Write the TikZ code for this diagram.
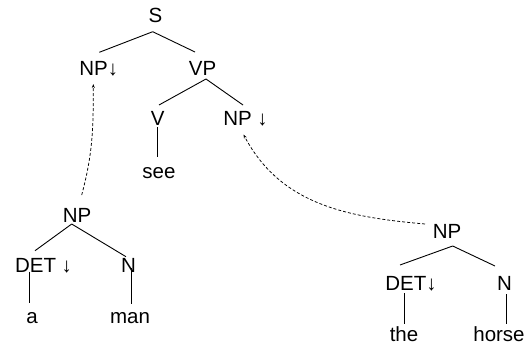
\documentclass[tikz,border=0pt]{standalone}
\usepackage{fontspec}
\setmainfont{Liberation Sans}
\usetikzlibrary{arrows.meta}
\begin{document}
\begin{tikzpicture}[x=1pt,y=-1pt,
  lbl/.style={anchor=base,inner sep=0pt,font=\fontsize{20.5}{20.5}\selectfont},
  edge/.style={line width=0.9pt},
  move/.style={line width=0.75pt,dash pattern=on 3pt off 2pt,-{Stealth[length=4pt,width=3pt]}}]
\useasboundingbox (0,0) rectangle (530,345);
% nodes
\node[lbl] (S) at (155.5,23) {S};
\node[lbl] (NPa) at (98.7,76) {NP↓};
\node[lbl] (VP) at (202.5,76) {VP};
\node[lbl] (V) at (157.7,125) {V};
\node[lbl] (NPb) at (245.5,125) {NP ↓};
\node[lbl] (see) at (159,178) {see};
\node[lbl] (NPc) at (77,222) {NP};
\node[lbl] (DETc) at (43.5,272) {DET ↓};
\node[lbl] (Nc) at (128.5,272) {N};
\node[lbl] (a) at (32,323) {a};
\node[lbl] (man) at (130,323) {man};
\node[lbl] (NPd) at (447,238) {NP};
\node[lbl] (DETd) at (411,290) {DET↓};
\node[lbl] (Nd) at (504.5,290) {N};
\node[lbl] (the) at (404,341) {the};
\node[lbl] (horse) at (499,341) {horse};
% edges
\draw[edge] ([shift={(-2.8,8.7)}]S.base) -- ([shift={(0.6,-23.7)}]NPa.base);
\draw[edge] ([shift={(-2.8,8.7)}]S.base) -- ([shift={(-7.5,-24)}]VP.base);
\draw[edge] ([shift={(3.5,3)}]VP.base) -- ([shift={(1.3,-20)}]V.base);
\draw[edge] ([shift={(3.5,3)}]VP.base) -- ([shift={(-2.5,-20)}]NPb.base);
\draw[edge] ([shift={(0,2)}]V.base) -- ([shift={(-1.3,-21)}]see.base);
\draw[edge] ([shift={(-5.3,2)}]NPc.base) -- ([shift={(-8.5,-21.3)}]DETc.base);
\draw[edge] ([shift={(-5.3,2)}]NPc.base) -- ([shift={(-2.5,-15.3)}]Nc.base);
\draw[edge] ([shift={(-14.2,-0.3)}]DETc.base) -- ([shift={(-2.7,-20)}]a.base);
\draw[edge] ([shift={(2.5,-4)}]Nc.base) -- ([shift={(1,-19)}]man.base);
\draw[edge] ([shift={(5.7,8)}]NPd.base) -- ([shift={(-11,-25)}]DETd.base);
\draw[edge] ([shift={(5.7,8)}]NPd.base) -- ([shift={(-9.5,-24)}]Nd.base);
\draw[edge] ([shift={(-6.7,3)}]DETd.base) -- ([shift={(0.3,-17)}]the.base);
\draw[edge] ([shift={(1.5,4)}]Nd.base) -- ([shift={(7,-17)}]horse.base);
% substitution arrows
\draw[move] ([shift={(-22,-14)}]NPd.base) to[out=175,in=-62] ([shift={(-2,9.5)}]NPb.base);
\draw[move] ([shift={(4.7,-27)}]NPc.base) to[out=75,in=-90] ([shift={(-5.4,8)}]NPa.base);
\end{tikzpicture}
\end{document}
